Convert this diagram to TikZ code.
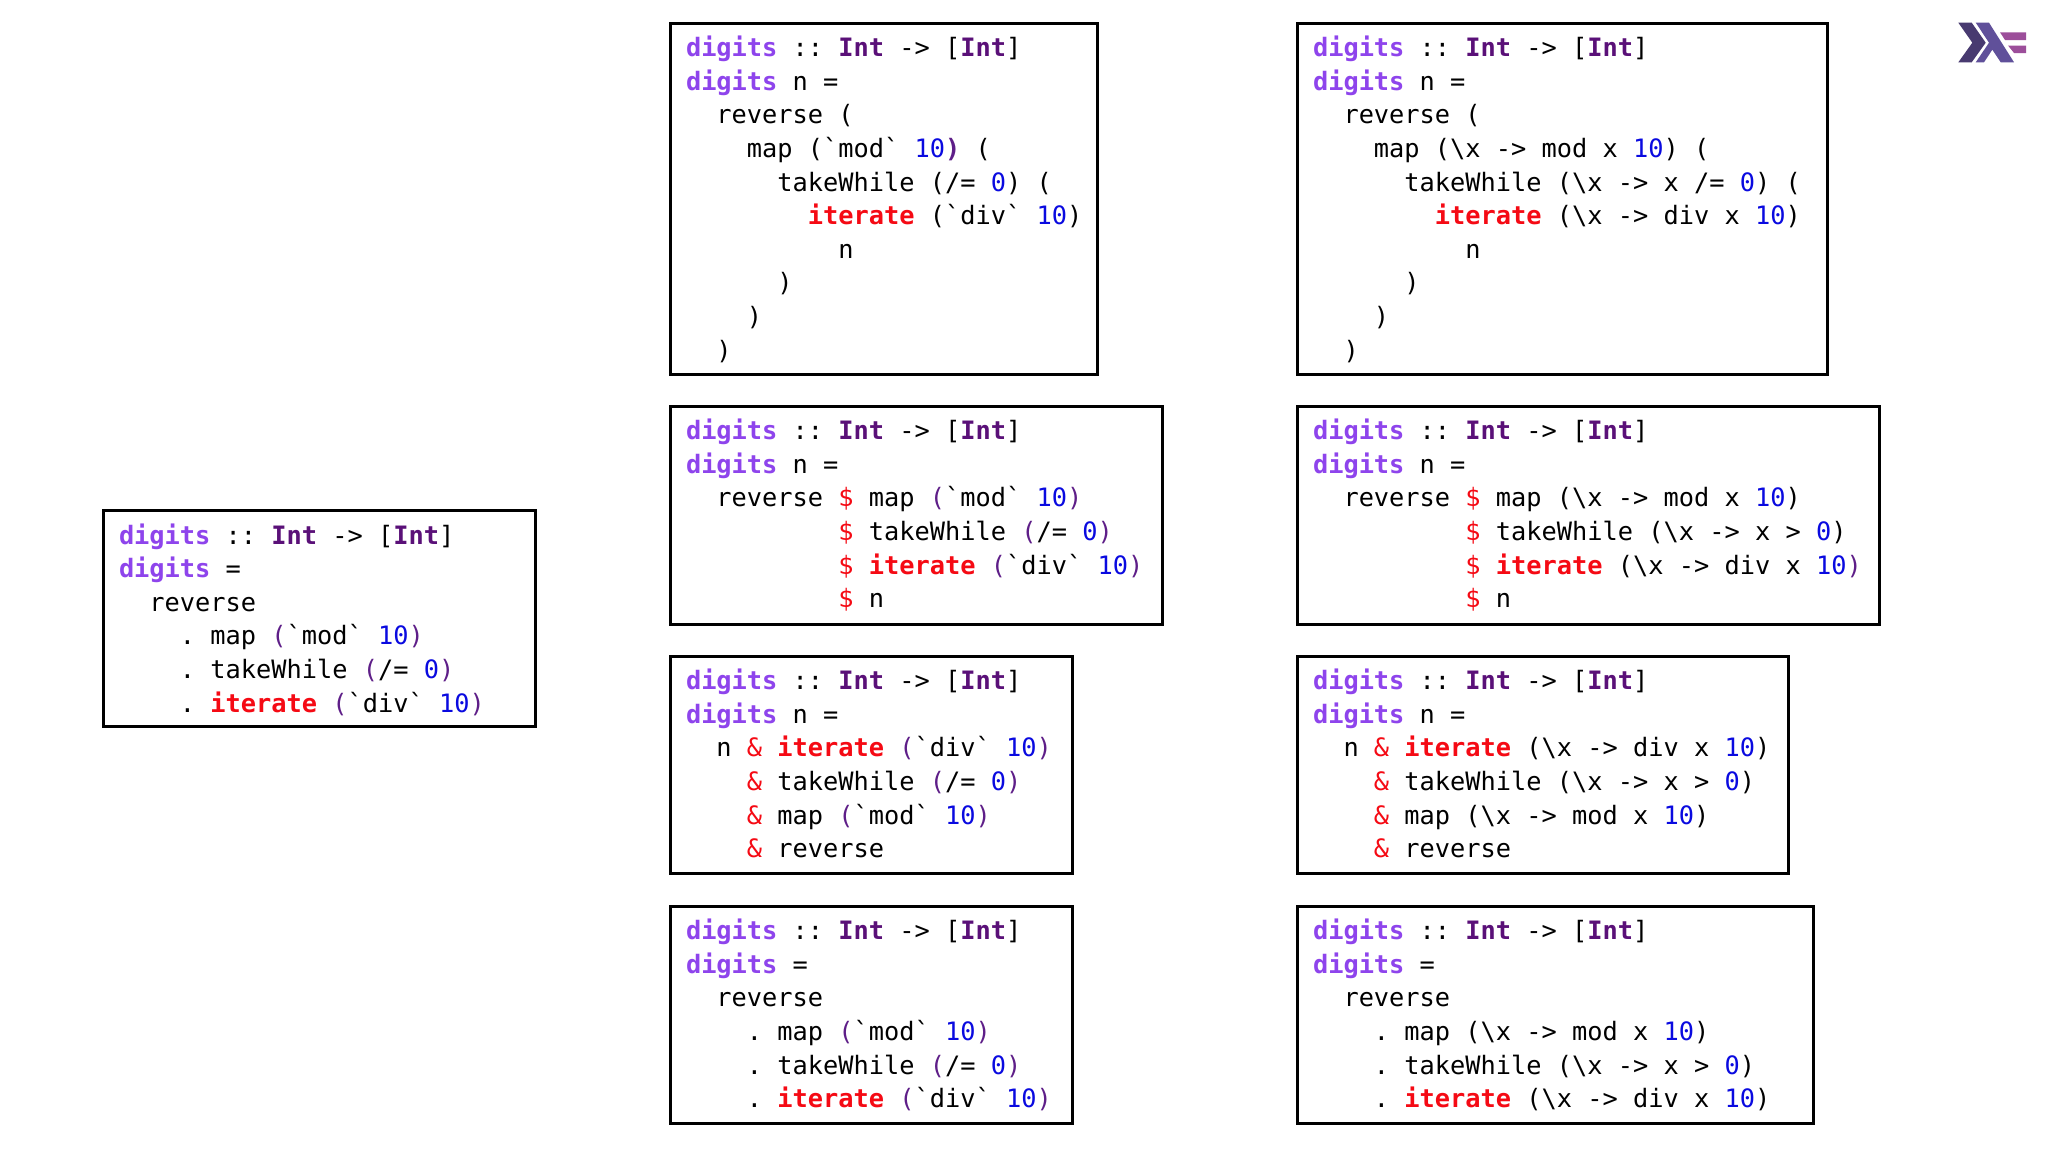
\documentclass[tikz,border=0pt]{standalone}
\usepackage{fontspec}
\newfontfamily\codefont{DejaVu Sans Mono}
\definecolor{fnpurple}{HTML}{8E44EC}
\definecolor{typepurple}{HTML}{5A1078}
\definecolor{numblue}{HTML}{0A0AE0}
\definecolor{hotred}{HTML}{F50A14}
\definecolor{parenpurple}{HTML}{5E1E88}
\definecolor{logoa}{HTML}{483A70}
\definecolor{logob}{HTML}{60509A}
\definecolor{logoc}{HTML}{9C4E9A}
\newcommand{\Dg}{\textcolor{fnpurple}{\bfseries digits}}
\newcommand{\Ty}{\textcolor{typepurple}{\bfseries Int}}
\newcommand{\Nm}[1]{\textcolor{numblue}{#1}}
\newcommand{\Rd}[1]{\textcolor{hotred}{#1}}
\newcommand{\It}{\textcolor{hotred}{\bfseries iterate}}
\newcommand{\Pp}[1]{\textcolor{parenpurple}{#1}}
\newcommand{\Lx}{\textbackslash x}
\newcommand{\Sig}{\Dg{} :: \Ty{} -> [\Ty]}
% w h (pixels) body
\newcommand{\Code}[3]{\hspace*{8pt}\parbox[c][\dimexpr #2pt/2\relax][t]{\dimexpr #1pt/2-8pt\relax}{%
  \codefont\fontsize{12.66pt}{16.8pt}\selectfont\frenchspacing\setlength{\parindent}{0pt}\raggedright
  \rule{0pt}{16.8pt}#3}}
\tikzset{
  codebox/.style={draw=black, line width=1.5pt, fill=white, inner sep=0pt, outer sep=0pt, anchor=north west, text=black, align=left},
}
\begin{document}
\begin{tikzpicture}[x=0.5pt,y=-0.5pt]
\useasboundingbox[fill=white] (0,0) rectangle (2048,1152);

\node[codebox] (pointfree) at (103,510.5) {\Code{432}{216}{\Sig\\
\Dg{} =\\
~~reverse\\
~~~~. map \Pp{(}`mod` \Nm{10}\Pp{)}\\
~~~~. takeWhile \Pp{(}/= \Nm{0}\Pp{)}\\
~~~~. \It{} \Pp{(}`div` \Nm{10}\Pp{)}}};

\node[codebox] (nested) at (670,23) {\Code{427}{351}{\Sig\\
\Dg{} n =\\
~~reverse (\\
~~~~map (`mod` \Nm{10}\Pp{\bfseries)} (\\
~~~~~~takeWhile (/= \Nm{0}) (\\
~~~~~~~~\It{} (`div` \Nm{10})\\
~~~~~~~~~~n\\
~~~~~~)\\
~~~~)\\
~~)}};

\node[codebox] (nestedlam) at (1297,23) {\Code{530}{351}{\Sig\\
\Dg{} n =\\
~~reverse (\\
~~~~map (\Lx{} -> mod x \Nm{10}) (\\
~~~~~~takeWhile (\Lx{} -> x /= \Nm{0}) (\\
~~~~~~~~\It{} (\Lx{} -> div x \Nm{10})\\
~~~~~~~~~~n\\
~~~~~~)\\
~~~~)\\
~~)}};

\node[codebox] (dollar) at (670,406) {\Code{492}{218}{\Sig\\
\Dg{} n =\\
~~reverse \Rd{\$} map \Pp{(}`mod` \Nm{10}\Pp{)}\\
~~~~~~~~~~\Rd{\$} takeWhile \Pp{(}/= \Nm{0}\Pp{)}\\
~~~~~~~~~~\Rd{\$} \It{} \Pp{(}`div` \Nm{10}\Pp{)}\\
~~~~~~~~~~\Rd{\$} n}};

\node[codebox] (dollarlam) at (1297,406) {\Code{582}{218}{\Sig\\
\Dg{} n =\\
~~reverse \Rd{\$} map (\Lx{} -> mod x \Nm{10})\\
~~~~~~~~~~\Rd{\$} takeWhile (\Lx{} -> x > \Nm{0})\\
~~~~~~~~~~\Rd{\$} \It{} (\Lx{} -> div x \Nm{10}\Pp{)}\\
~~~~~~~~~~\Rd{\$} n}};

\node[codebox] (amp) at (670,656) {\Code{402}{217}{\Sig\\
\Dg{} n =\\
~~n \Rd{\&} \It{} \Pp{(}`div` \Nm{10}\Pp{)}\\
~~~~\Rd{\&} takeWhile \Pp{(}/= \Nm{0}\Pp{)}\\
~~~~\Rd{\&} map \Pp{(}`mod` \Nm{10}\Pp{)}\\
~~~~\Rd{\&} reverse}};

\node[codebox] (amplam) at (1297,656) {\Code{491}{217}{\Sig\\
\Dg{} n =\\
~~n \Rd{\&} \It{} (\Lx{} -> div x \Nm{10})\\
~~~~\Rd{\&} takeWhile (\Lx{} -> x > \Nm{0})\\
~~~~\Rd{\&} map (\Lx{} -> mod x \Nm{10})\\
~~~~\Rd{\&} reverse}};

\node[codebox] (comp) at (670,906) {\Code{402}{217}{\Sig\\
\Dg{} =\\
~~reverse\\
~~~~. map \Pp{(}`mod` \Nm{10}\Pp{)}\\
~~~~. takeWhile \Pp{(}/= \Nm{0}\Pp{)}\\
~~~~. \It{} \Pp{(}`div` \Nm{10}\Pp{)}}};

\node[codebox] (complam) at (1297,906) {\Code{516}{217}{\Sig\\
\Dg{} =\\
~~reverse\\
~~~~. map (\Lx{} -> mod x \Nm{10})\\
~~~~. takeWhile (\Lx{} -> x > \Nm{0})\\
~~~~. \It{} (\Lx{} -> div x \Nm{10})}};

% logo
\fill[logoa] (1958.3,22.7) -- (1971.7,22.7) -- (1985.7,42.7) -- (1971.7,62.3) -- (1958.3,62.3) -- (1972.3,42.7) -- cycle;
\fill[logob] (1975.7,22.7) -- (1989,22.7) -- (2014,62.3) -- (2000.7,62.3) -- (1992.3,49.7) -- (1984,62.3) -- (1975.7,62.3) -- (1989,42.7) -- cycle;
\fill[logoc] (2000,32.3) -- (2026,32.3) -- (2026,40) -- (2005,40) -- cycle;
\fill[logoc] (2008,45.5) -- (2026,45.5) -- (2026,53) -- (2014,53) -- cycle;
\end{tikzpicture}
\end{document}
